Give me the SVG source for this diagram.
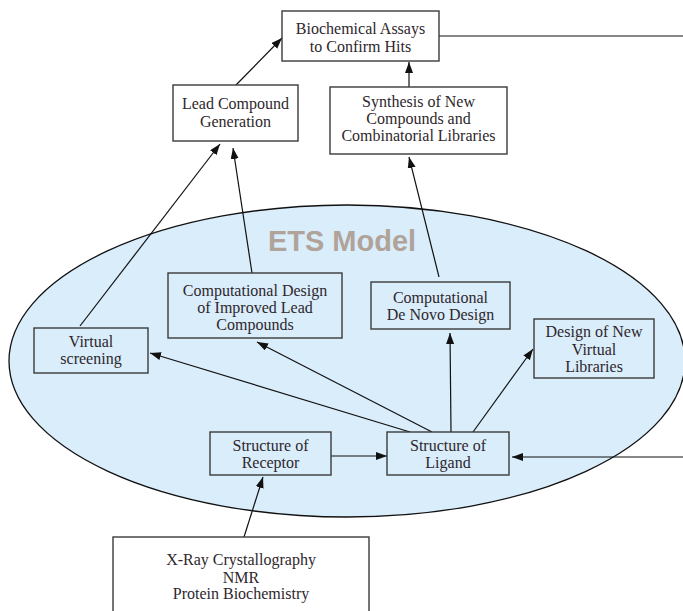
<svg xmlns="http://www.w3.org/2000/svg" width="683" height="611" viewBox="0 0 683 611">
<style>
.bx{stroke:#3a3a3a;stroke-width:1.4;}
.w{fill:#ffffff;}
.b{fill:#daedfb;}
.t{font-family:"Liberation Serif","Times New Roman",serif;font-size:16px;fill:#2e272c;text-anchor:middle;}
.c{stroke:#111;stroke-width:1.2;fill:none;}
.a{marker-end:url(#ah);}
</style>
<defs>
<marker id="ah" markerUnits="userSpaceOnUse" markerWidth="12" markerHeight="10" refX="11" refY="4" orient="auto">
<path d="M0,0 L11,4 L0,8 z" fill="#111"/>
</marker>
</defs>
<rect width="683" height="611" fill="#ffffff"/>
<ellipse id="ets" cx="347" cy="361" rx="338" ry="156" fill="#daedfb" stroke="#111" stroke-width="1.3"/>
<text x="342" y="251" font-family="Liberation Sans, Arial, sans-serif" font-weight="bold" font-size="29" fill="#b0a399" text-anchor="middle">ETS Model</text>
<g id="connectors">
<line class="c a" x1="236" y1="85" x2="282" y2="38"/>
<line class="c a" x1="409" y1="87" x2="409" y2="62"/>
<line class="c" x1="439" y1="36" x2="683" y2="36"/>
<line class="c a" x1="80" y1="326" x2="220" y2="144"/>
<line class="c a" x1="252" y1="273" x2="233" y2="148"/>
<line class="c a" x1="439" y1="277" x2="409" y2="157"/>
<line class="c a" x1="410" y1="432" x2="150" y2="353"/>
<line class="c a" x1="432" y1="432" x2="257" y2="342"/>
<line class="c a" x1="451" y1="432" x2="450" y2="333"/>
<line class="c a" x1="473" y1="432" x2="533" y2="349"/>
<line class="c a" x1="331" y1="456" x2="387" y2="456"/>
<line class="c a" x1="244" y1="537" x2="263" y2="477"/>
<line class="c a" x1="683" y1="457" x2="512" y2="457"/>
</g>
<g id="biochem">
<rect class="bx w" x="282" y="11" width="157" height="50"/>
<text class="t" x="360.5" y="34">Biochemical Assays</text>
<text class="t" x="360.5" y="52">to Confirm Hits</text>
</g>
<g id="lead">
<rect class="bx w" x="173" y="85" width="125" height="56"/>
<text class="t" x="235.5" y="109">Lead Compound</text>
<text class="t" x="235.5" y="127">Generation</text>
</g>
<g id="synthesis">
<rect class="bx w" x="330" y="87" width="177" height="67"/>
<text class="t" x="418.5" y="107">Synthesis of New</text>
<text class="t" x="418.5" y="124">Compounds and</text>
<text class="t" x="418.5" y="141">Combinatorial Libraries</text>
</g>
<g id="compdesign">
<rect class="bx b" x="168" y="273" width="174" height="65"/>
<text class="t" x="255" y="296">Computational Design</text>
<text class="t" x="255" y="313">of Improved Lead</text>
<text class="t" x="255" y="330">Compounds</text>
</g>
<g id="denovo">
<rect class="bx b" x="371" y="282" width="139" height="47"/>
<text class="t" x="440.5" y="303">Computational</text>
<text class="t" x="440.5" y="320">De Novo Design</text>
</g>
<g id="virtual">
<rect class="bx b" x="34" y="328" width="114" height="45"/>
<text class="t" x="91" y="347">Virtual</text>
<text class="t" x="91" y="364">screening</text>
</g>
<g id="designnew">
<rect class="bx b" x="534" y="319" width="120" height="59"/>
<text class="t" x="594" y="337">Design of New</text>
<text class="t" x="594" y="355">Virtual</text>
<text class="t" x="594" y="372">Libraries</text>
</g>
<g id="receptor">
<rect class="bx b" x="210" y="432" width="121" height="43"/>
<text class="t" x="270.5" y="451">Structure of</text>
<text class="t" x="270.5" y="468">Receptor</text>
</g>
<g id="ligand">
<rect class="bx b" x="387" y="432" width="122" height="43"/>
<text class="t" x="448" y="451">Structure of</text>
<text class="t" x="448" y="468">Ligand</text>
</g>
<g id="xray">
<rect class="bx w" x="113" y="537" width="256" height="90"/>
<text class="t" x="241" y="565">X-Ray Crystallography</text>
<text class="t" x="241" y="583">NMR</text>
<text class="t" x="241" y="599">Protein Biochemistry</text>
</g>
</svg>
